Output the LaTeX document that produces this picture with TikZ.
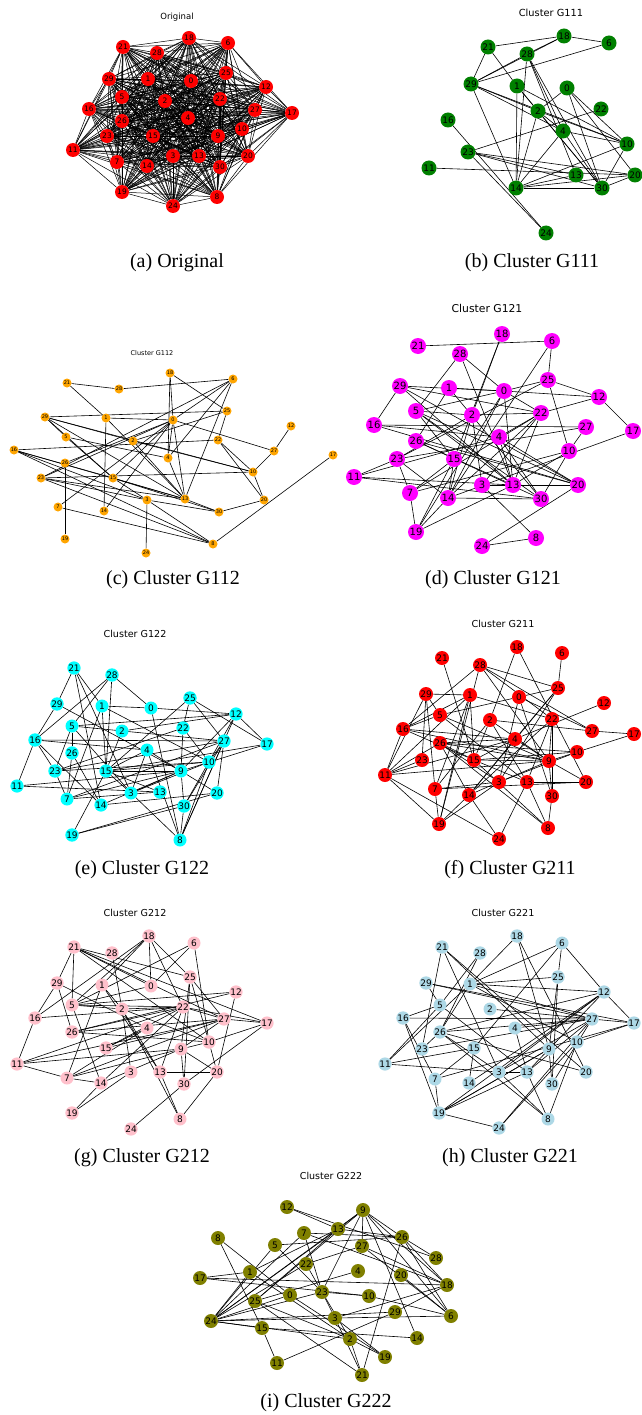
\documentclass[tikz,border=0pt]{standalone}
\usepackage{fontspec}
\setmainfont{Liberation Serif}
\newfontfamily\dvs{DejaVu Sans}
\usetikzlibrary{backgrounds}
\pgfdeclarelayer{edgelayer}
\pgfsetlayers{background,edgelayer,main}
\definecolor{cred}{RGB}{255,0,0}
\definecolor{cgreen}{RGB}{0,128,0}
\definecolor{corange}{RGB}{255,165,0}
\definecolor{cmagenta}{RGB}{255,0,255}
\definecolor{ccyan}{RGB}{0,255,255}
\definecolor{cpink}{RGB}{255,192,203}
\definecolor{clblue}{RGB}{173,216,230}
\definecolor{colive}{RGB}{128,128,0}
\tikzset{
  base/.style={circle,inner sep=0pt,text=black},
  va/.style={base,fill=cred,minimum size=14pt,font=\dvs\fontsize{7.5}{7.5}\selectfont},
  vb/.style={base,fill=cgreen,minimum size=15pt,font=\dvs\fontsize{9}{9}\selectfont},
  vc/.style={base,fill=corange,minimum size=9pt,font=\dvs\fontsize{5}{5}\selectfont},
  vd/.style={base,fill=cmagenta,minimum size=16pt,font=\dvs\fontsize{10}{10}\selectfont},
  ve/.style={base,fill=ccyan,minimum size=13pt,font=\dvs\fontsize{9}{9}\selectfont},
  vf/.style={base,fill=cred,minimum size=14pt,font=\dvs\fontsize{9}{9}\selectfont},
  vg/.style={base,fill=cpink,minimum size=13pt,font=\dvs\fontsize{9}{9}\selectfont},
  vh/.style={base,fill=clblue,minimum size=13pt,font=\dvs\fontsize{9}{9}\selectfont},
  vi/.style={base,fill=colive,minimum size=14pt,font=\dvs\fontsize{9}{9}\selectfont},
  edge/.style={black,line width=0.6pt},
  aedge/.style={black,line width=0.5pt},
  ttl/.style={font=\dvs\fontsize{#1}{#1}\selectfont},
  capt/.style={font=\fontsize{20}{22}\selectfont}
}
\begin{document}
\begin{tikzpicture}[x=1pt,y=-1pt]
\useasboundingbox (0,0) rectangle (641,1415);
\begin{pgfonlayer}{background}
\fill[white] (0,0) rectangle (641,1415);
\end{pgfonlayer}

% ---------- (a) Original ----------
\node[ttl=8.5] (ta) at (177,17) {Original};
\foreach \n/\x/\y in {18/189/38, 21/123/47, 28/157/53, 6/228/43, 25/226/73, 29/109/79, 1/148/79, 0/191/81, 12/266/87, 5/122/97, 2/165/101, 22/220/99, 16/89/109, 27/255/110, 17/292/113, 26/122/121, 4/188/118, 10/242/129, 23/107/136, 15/153/136, 9/218/136, 11/73/150, 3/173/156, 13/199/156, 20/248/156, 7/117/162, 14/147/166, 30/220/167, 19/122/192, 8/217/197, 24/173/206}
  \node[va] (a\n) at (\x,\y) {\n};
\begin{pgfonlayer}{edgelayer}
\foreach \i in {0,...,30}{\foreach \j in {0,...,30}{\ifnum\i<\j \draw[aedge] (a\i) -- (a\j);\fi}}
\end{pgfonlayer}
\node[capt] (ca) at (177,263) {(a) Original};

% ---------- (b) G111 ----------
\node[ttl=9.8] (tb) at (551,13) {Cluster G111};
\foreach \n/\x/\y in {18/564/36, 6/609/43, 21/488/47, 28/527/54, 29/471/84, 1/517/86, 0/567/88, 22/601/109, 2/538/111, 16/448/120, 4/563/131, 10/627/144, 23/468/152, 11/429/168, 13/576/175, 20/635/175, 14/516/188, 30/602/188, 24/546/233}
  \node[vb] (b\n) at (\x,\y) {\n};
\begin{pgfonlayer}{edgelayer}
\foreach \u/\v in {21/18, 18/6, 18/29, 28/29, 6/29, 21/29, 21/1, 28/14, 28/4, 28/13, 28/30, 29/2, 29/4, 29/10, 29/14, 1/30, 1/10, 1/14, 0/2, 0/30, 0/20, 0/10, 22/23, 2/14, 2/10, 2/30, 2/4, 16/24, 23/24, 23/13, 23/20, 23/30, 11/20, 4/14, 4/30, 4/10, 10/14, 10/30, 14/30, 14/20, 14/13, 30/20, 1/2, 28/18}
  \draw[edge] (b\u) -- (b\v);
\end{pgfonlayer}
\node[capt] (cb) at (532,263) {(b) Cluster G111};

% ---------- (c) G112 ----------
\node[ttl=6.5] (tc) at (152,353) {Cluster G112};
\foreach \n/\x/\y in {18/170/373, 6/233/379, 21/67/383, 28/119/389, 25/227/411, 29/45/417, 1/106/418, 0/173/420, 12/291/426, 5/66/437, 2/133/441, 22/218/440, 16/14/450, 27/274/451, 17/333/455, 4/168/458, 26/65/463, 10/253/472, 23/41/478, 15/113/478, 13/185/499, 3/147/500, 20/264/500, 7/58/507, 14/104/511, 30/219/512, 19/65/539, 8/213/544, 24/146/553}
  \node[vc] (c\n) at (\x,\y) {\n};
\begin{pgfonlayer}{edgelayer}
\foreach \u/\v in {21/28, 28/6, 21/1, 18/0, 18/4, 18/25, 6/0, 6/4, 6/13, 6/23, 29/25, 29/2, 29/13, 29/15, 29/10, 1/0, 1/14, 1/13, 0/27, 0/23, 0/26, 0/7, 0/15, 0/14, 0/13, 0/4, 25/22, 25/2, 16/22, 22/10, 22/20, 12/27, 27/10, 10/20, 23/10, 5/4, 5/15, 2/10, 2/13, 16/3, 16/13, 16/8, 16/15, 26/19, 23/3, 23/8, 23/13, 15/13, 15/30, 15/3, 3/30, 3/8, 3/24, 13/30, 30/20, 17/8, 7/8, 13/4, 29/5}
  \draw[edge] (c\u) -- (c\v);
\end{pgfonlayer}
\node[capt] (cc) at (173,580) {(c) Cluster G112};

% ---------- (d) G121 ----------
\node[ttl=10.8] (td) at (487,308) {Cluster G121};
\foreach \n/\x/\y in {18/502/334, 6/552/341, 21/418/346, 28/460/354, 25/548/380, 29/400/386, 1/449/388, 0/504/391, 12/599/397, 5/416/411, 2/472/415, 22/541/413, 16/374/425, 27/586/427, 17/633/431, 4/499/437, 26/416/441, 10/569/451, 23/397/459, 15/454/459, 11/354/477, 3/482/485, 13/513/485, 20/578/485, 7/410/493, 14/448/498, 30/541/499, 19/416/532, 8/536/538, 24/482/546}
  \node[vd] (d\n) at (\x,\y) {\n};
\begin{pgfonlayer}{edgelayer}
\foreach \u/\v in {21/6, 18/2, 18/15, 6/25, 6/14, 28/5, 28/0, 28/13, 25/0, 25/12, 25/10, 25/23, 29/0, 29/22, 29/13, 29/16, 29/20, 1/0, 1/26, 1/30, 0/12, 0/5, 0/19, 0/13, 0/14, 0/22, 5/13, 5/30, 5/20, 2/22, 2/3, 2/14, 2/23, 22/12, 22/3, 22/13, 22/14, 22/7, 22/4, 16/27, 16/4, 16/20, 12/17, 27/10, 27/23, 4/30, 4/20, 4/13, 4/11, 26/20, 26/30, 26/13, 10/7, 10/13, 10/30, 17/14, 23/11, 23/14, 23/7, 15/7, 15/19, 15/14, 11/13, 11/30, 3/13, 13/20, 14/30, 19/14, 19/7, 19/13, 3/8, 24/8, 24/20, 5/15, 2/5}
  \draw[edge] (d\u) -- (d\v);
\end{pgfonlayer}
\node[capt] (cd) at (493,580) {(d) Cluster G121};

% ---------- (e) G122 ----------
\node[ttl=9.6] (te) at (135,634) {Cluster G122};
\foreach \n/\x/\y in {21/74/668, 28/112/675, 25/190/698, 29/57/704, 1/102/706, 0/151/708, 12/236/714, 5/72/726, 22/183/728, 2/122/731, 16/35/740, 27/224/741, 17/267/744, 4/147/750, 26/72/753, 10/209/762, 23/55/771, 15/106/771, 9/181/771, 11/17/786, 3/131/793, 13/160/792, 20/217/793, 7/67/799, 14/101/805, 30/184/806, 19/72/835, 8/180/840}
  \node[ve] (e\n) at (\x,\y) {\n};
\begin{pgfonlayer}{edgelayer}
\foreach \u/\v in {21/29, 21/1, 21/14, 21/3, 28/16, 28/5, 28/15, 28/0, 29/16, 29/9, 1/0, 1/7, 1/15, 1/10, 0/12, 0/8, 25/22, 25/27, 25/17, 25/15, 12/5, 12/2, 12/9, 12/8, 12/30, 12/17, 5/27, 5/23, 5/3, 22/9, 22/23, 22/10, 2/15, 16/27, 16/11, 16/14, 16/4, 16/23, 27/23, 27/10, 27/7, 27/8, 27/20, 27/30, 17/9, 17/15, 4/15, 4/3, 4/8, 4/9, 26/7, 26/14, 10/15, 10/3, 10/8, 23/10, 23/7, 15/19, 15/3, 15/13, 15/9, 9/3, 9/7, 9/20, 9/14, 9/30, 11/13, 11/9, 3/8, 7/13, 14/20, 19/30, 19/20, 30/8, 5/26}
  \draw[edge] (e\u) -- (e\v);
\end{pgfonlayer}
\node[capt] (ce) at (142,870) {(e) Cluster G122};

% ---------- (f) G211 ----------
\node[ttl=9.6] (tf) at (503,624) {Cluster G211};
\foreach \n/\x/\y in {18/517/647, 6/562/653, 21/442/658, 28/480/665, 25/558/688, 29/426/694, 1/470/695, 0/519/697, 12/604/703, 5/440/715, 2/490/720, 22/552/719, 16/403/729, 27/592/731, 17/634/734, 4/515/739, 26/440/743, 10/577/752, 23/422/760, 15/474/760, 9/549/761, 11/385/775, 3/499/782, 13/527/782, 20/586/782, 7/435/789, 14/469/795, 30/552/796, 19/439/824, 8/548/828, 24/499/839}
  \node[vf] (f\n) at (\x,\y) {\n};
\begin{pgfonlayer}{edgelayer}
\foreach \u/\v in {21/15, 18/2, 18/20, 6/25, 28/25, 28/27, 28/22, 28/19, 28/16, 28/9, 25/4, 25/14, 25/0, 25/3, 29/1, 29/23, 29/7, 29/5, 29/11, 1/22, 1/15, 1/19, 1/7, 1/16, 1/11, 0/5, 0/3, 0/30, 0/27, 12/4, 5/16, 5/9, 5/13, 2/27, 2/15, 2/13, 2/7, 2/9, 22/13, 22/9, 22/30, 22/14, 16/11, 16/9, 16/15, 16/4, 27/17, 4/26, 4/11, 4/14, 4/15, 4/9, 26/9, 26/15, 26/14, 26/10, 26/3, 26/8, 10/17, 10/9, 10/3, 10/15, 23/11, 15/9, 15/8, 15/13, 9/11, 9/30, 9/20, 9/3, 11/19, 11/24, 11/26, 3/7, 3/19, 3/14, 13/24, 13/8, 13/20, 7/19, 14/19, 14/24, 30/8, 7/20}
  \draw[edge] (f\u) -- (f\v);
\end{pgfonlayer}
\node[capt] (cf) at (510,870) {(f) Cluster G211};

% ---------- (g) G212 ----------
\node[ttl=9.6] (tg) at (135,913) {Cluster G212};
\foreach \n/\x/\y in {18/149/936, 6/194/943, 21/74/947, 28/112/953, 25/190/977, 29/57/983, 1/102/985, 0/151/986, 12/236/992, 5/72/1005, 2/122/1009, 22/183/1007, 16/35/1018, 27/224/1019, 17/267/1023, 4/147/1028, 26/72/1032, 10/209/1042, 15/106/1048, 9/181/1049, 11/17/1064, 3/131/1072, 13/160/1072, 20/217/1072, 7/67/1078, 14/101/1083, 30/184/1084, 19/72/1113, 8/180/1119, 24/131/1129}
  \node[vg] (g\n) at (\x,\y) {\n};
\begin{pgfonlayer}{edgelayer}
\foreach \u/\v in {21/29, 21/5, 21/0, 21/27, 21/10, 21/25, 18/5, 18/16, 18/0, 18/25, 18/22, 18/1, 6/0, 6/10, 6/5, 28/2, 25/27, 25/10, 25/30, 25/9, 29/26, 29/16, 29/4, 1/2, 1/7, 1/13, 0/5, 12/26, 12/20, 12/5, 5/14, 5/22, 5/2, 2/13, 2/3, 2/22, 2/10, 2/8, 22/26, 22/16, 22/11, 22/17, 22/13, 22/15, 22/27, 16/11, 27/26, 27/7, 27/9, 27/17, 27/11, 4/7, 4/15, 26/10, 10/17, 10/20, 10/9, 9/11, 9/7, 9/20, 9/30, 11/7, 3/19, 13/20, 13/8, 7/14, 14/19, 14/22, 30/24, 30/17, 20/8, 15/27, 9/14, 21/17}
  \draw[edge] (g\u) -- (g\v);
\end{pgfonlayer}
\node[capt] (cg) at (142,1158) {(g) Cluster G212};

% ---------- (h) G221 ----------
\node[ttl=9.6] (th) at (503,913) {Cluster G221};
\foreach \n/\x/\y in {18/517/936, 6/562/943, 21/442/947, 28/480/953, 25/558/977, 29/426/983, 1/470/984, 12/604/992, 5/440/1005, 2/490/1009, 16/403/1018, 27/592/1019, 17/634/1023, 4/515/1028, 26/440/1032, 10/577/1042, 23/422/1049, 15/474/1048, 9/549/1049, 11/385/1064, 3/499/1072, 13/527/1072, 20/586/1072, 7/435/1079, 14/469/1083, 30/552/1084, 19/439/1113, 8/548/1119, 24/499/1128}
  \node[vh] (h\n) at (\x,\y) {\n};
\begin{pgfonlayer}{edgelayer}
\foreach \u/\v in {21/23, 21/3, 21/9, 21/20, 18/1, 18/9, 18/20, 6/1, 6/25, 6/15, 6/12, 28/5, 28/26, 29/5, 29/27, 29/17, 1/26, 1/11, 1/25, 1/12, 1/27, 1/10, 25/9, 25/30, 12/26, 12/17, 12/3, 12/14, 12/13, 5/16, 5/11, 5/13, 2/27, 16/27, 16/7, 16/19, 27/26, 27/17, 27/23, 27/3, 27/24, 27/30, 27/13, 17/10, 17/7, 4/13, 26/23, 26/3, 26/20, 26/8, 10/24, 10/8, 15/11, 15/7, 15/14, 9/30, 9/19, 11/3, 3/8, 3/13, 13/8, 13/19, 19/24, 19/7, 19/9, 4/27, 12/19}
  \draw[edge] (h\u) -- (h\v);
\end{pgfonlayer}
\node[capt] (ch) at (510,1158) {(h) Cluster G221};

% ---------- (i) G222 ----------
\node[ttl=9.5] (ti) at (331,1176) {Cluster G222};
\foreach \n/\x/\y in {12/287/1207, 9/363/1210, 13/338/1229, 7/304/1233, 8/218/1238, 26/402/1237, 5/275/1245, 27/362/1246, 28/436/1258, 22/306/1264, 1/250/1272, 4/358/1271, 20/401/1275, 17/200/1278, 18/447/1285, 23/322/1292, 0/290/1295, 10/369/1296, 25/255/1301, 29/395/1312, 6/451/1316, 3/335/1318, 24/211/1321, 15/262/1328, 14/417/1338, 2/350/1339, 19/385/1357, 11/277/1363, 21/362/1375}
  \node[vi] (i\n) at (\x,\y) {\n};
\begin{pgfonlayer}{edgelayer}
\foreach \u/\v in {12/13, 12/28, 9/13, 9/27, 9/26, 9/18, 9/23, 9/14, 9/24, 9/25, 9/6, 13/24, 13/26, 13/25, 7/26, 7/23, 7/24, 7/18, 8/0, 8/15, 26/6, 26/21, 26/28, 26/18, 5/24, 5/23, 5/26, 27/18, 27/6, 27/22, 22/23, 22/24, 1/17, 1/24, 1/13, 1/2, 4/25, 17/18, 17/10, 20/6, 23/10, 23/3, 23/2, 23/24, 0/19, 0/24, 10/6, 25/21, 25/2, 29/24, 29/11, 29/18, 3/24, 3/6, 3/21, 3/19, 24/15, 24/2, 15/14, 15/11, 2/19, 2/21, 3/18}
  \draw[edge] (i\u) -- (i\v);
\end{pgfonlayer}
\node[capt] (cci) at (326,1403) {(i) Cluster G222};
\end{tikzpicture}
\end{document}
